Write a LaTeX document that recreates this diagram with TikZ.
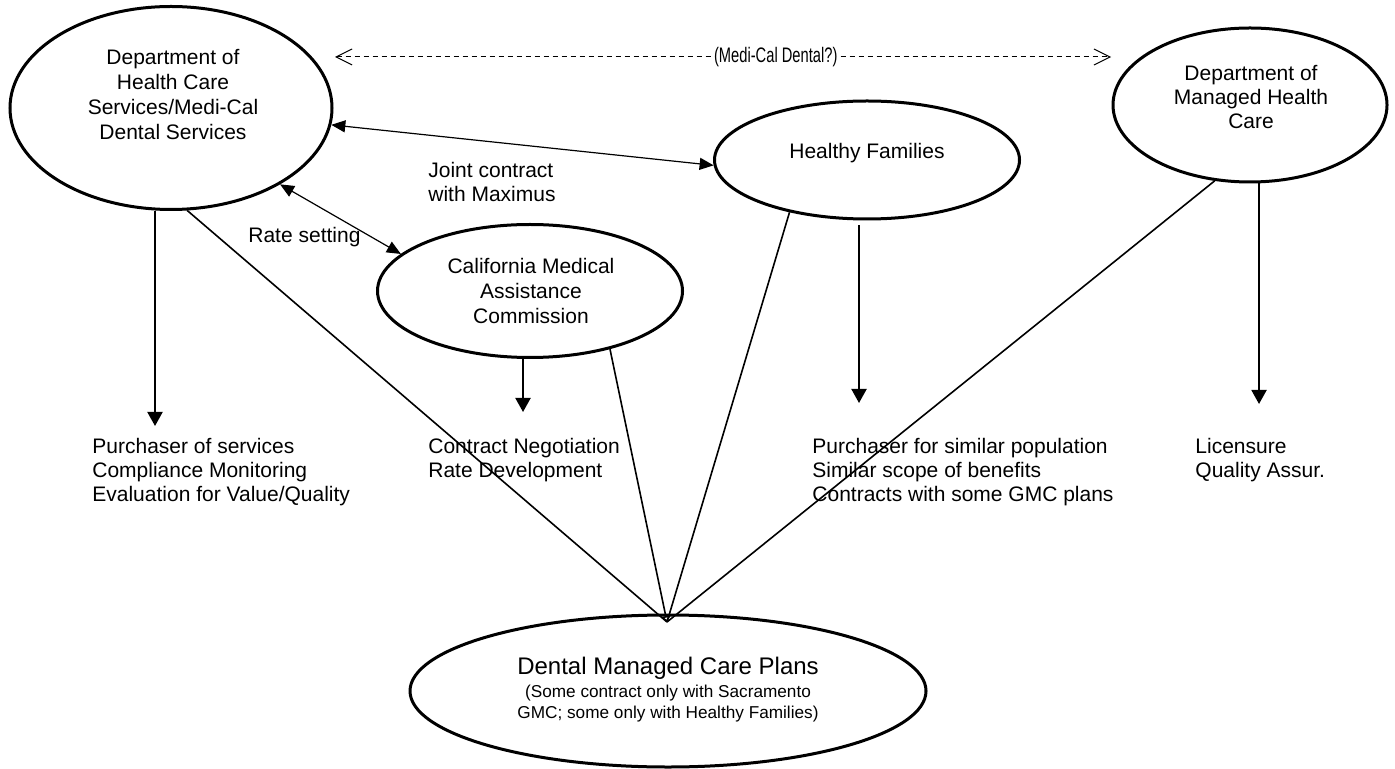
\documentclass[tikz,border=0pt]{standalone}
\usepackage{fontspec}
\setmainfont{Liberation Sans}
\newfontfamily\narrowsans{Liberation Sans}[FakeStretch=0.7]
\usetikzlibrary{shapes.geometric,arrows.meta}
\tikzset{
  oval/.style={draw,ellipse,line width=1.5pt,inner sep=0pt},
  txt/.style={align=center,inner sep=0pt,font=\fontsize{10.5}{12.3}\selectfont},
  note/.style={align=left,inner sep=0pt,anchor=west,font=\fontsize{10.5}{12}\selectfont},
  duty/.style={line width=1pt,-{Triangle[length=7pt,width=7.5pt]}},
  link/.style={line width=0.6pt,{Triangle[length=7pt,width=6pt]}-{Triangle[length=7pt,width=6pt]}},
  feed/.style={line width=0.8pt},
  guess/.style={line width=0.5pt,dash pattern=on 2.5pt off 2pt,{Straight Barb[length=8pt,width=8pt]}-{Straight Barb[length=8pt,width=8pt]}}
}
\begin{document}
\begin{tikzpicture}[x=0.5pt,y=-0.5pt]
  \useasboundingbox (0,0) rectangle (1395,769);
  % the agencies
  \node[oval,minimum width=161pt,minimum height=101.5pt] (dhcs) at (171,108) {};
  \node[txt,font=\fontsize{10.5}{12.5}\selectfont] (dhcstxt) at (173,95) {Department of\\Health Care\\Services/Medi-Cal\\Dental Services};
  \node[oval,minimum width=152.5pt,minimum height=66.5pt] (cmac) at (530,291) {};
  \node[txt] (cmactxt) at (531,291) {California Medical\\Assistance\\Commission};
  \node[oval,minimum width=152.5pt,minimum height=59pt] (hf) at (867,160) {};
  \node[txt] (hftxt) at (867,153) {Healthy Families};
  \node[oval,minimum width=137pt,minimum height=77pt] (dmhc) at (1250,105) {};
  \node[txt,font=\fontsize{10.5}{12}\selectfont] (dmhctxt) at (1251,97) {Department of\\Managed Health\\Care};
  \node[oval,minimum width=258pt,minimum height=76pt] (dmcp) at (668,691) {};
  \node[txt,font=\fontsize{12}{14}\selectfont] (dmcptxt) at (668,668) {Dental Managed Care Plans};
  \node[txt,font=\fontsize{8.6}{10.5}\selectfont] (dmcpsub) at (668,704) {(Some contract only with Sacramento\\GMC; some only with Healthy Families)};

  % links between agencies
  \draw[link] (dhcs.-6) -- (hf.182);
  \draw[link] (dhcs.-35.5) -- (cmac.164);
  \coordinate (medl) at (335,57);
  \coordinate (medr) at (1111,57);
  \draw[guess] (medl) -- node[pos=0.568,fill=white,inner sep=1pt,font=\narrowsans\fontsize{10.5}{12}\selectfont] (medtxt) {(Medi-Cal Dental?)} (medr);
  \node[note] (joint) at (428,182) {Joint contract\\with Maximus};
  \node[note] (rate) at (248,237) {Rate setting};

  % roles
  \coordinate (dhcsend) at (155,426);
  \coordinate (cmacend) at (523,412);
  \coordinate (hfend) at (859,403);
  \coordinate (dmhcend) at (1259,404);
  \draw[duty] (dhcs.south -| dhcsend) -- (dhcsend);
  \draw[duty] (cmac.south -| cmacend) -- (cmacend);
  \draw[duty] ([yshift=-2.5pt]hf.south -| hfend) -- (hfend);
  \draw[duty] (dmhc.south -| dmhcend) -- (dmhcend);
  \node[note] (purch) at (92,472) {Purchaser of services\\Compliance Monitoring\\Evaluation for Value/Quality};
  \node[note] (negot) at (428,460) {Contract Negotiation\\Rate Development};
  \node[note] (similar) at (812,472) {Purchaser for similar population\\Similar scope of benefits\\Contracts with some GMC plans};
  \node[note] (licen) at (1195,460) {Licensure\\Quality Assur.};

  % everyone deals with the plans
  \coordinate (meet) at (667,622);
  \foreach \from/\ang in {dhcs/279,hf/-146,dmhc/245}
    \draw[feed] (\from.\ang) -- (meet);
  \draw[feed,-{Triangle[open,length=3pt,width=5pt]}] (cmac.-36) -- (meet);
\end{tikzpicture}
\end{document}
